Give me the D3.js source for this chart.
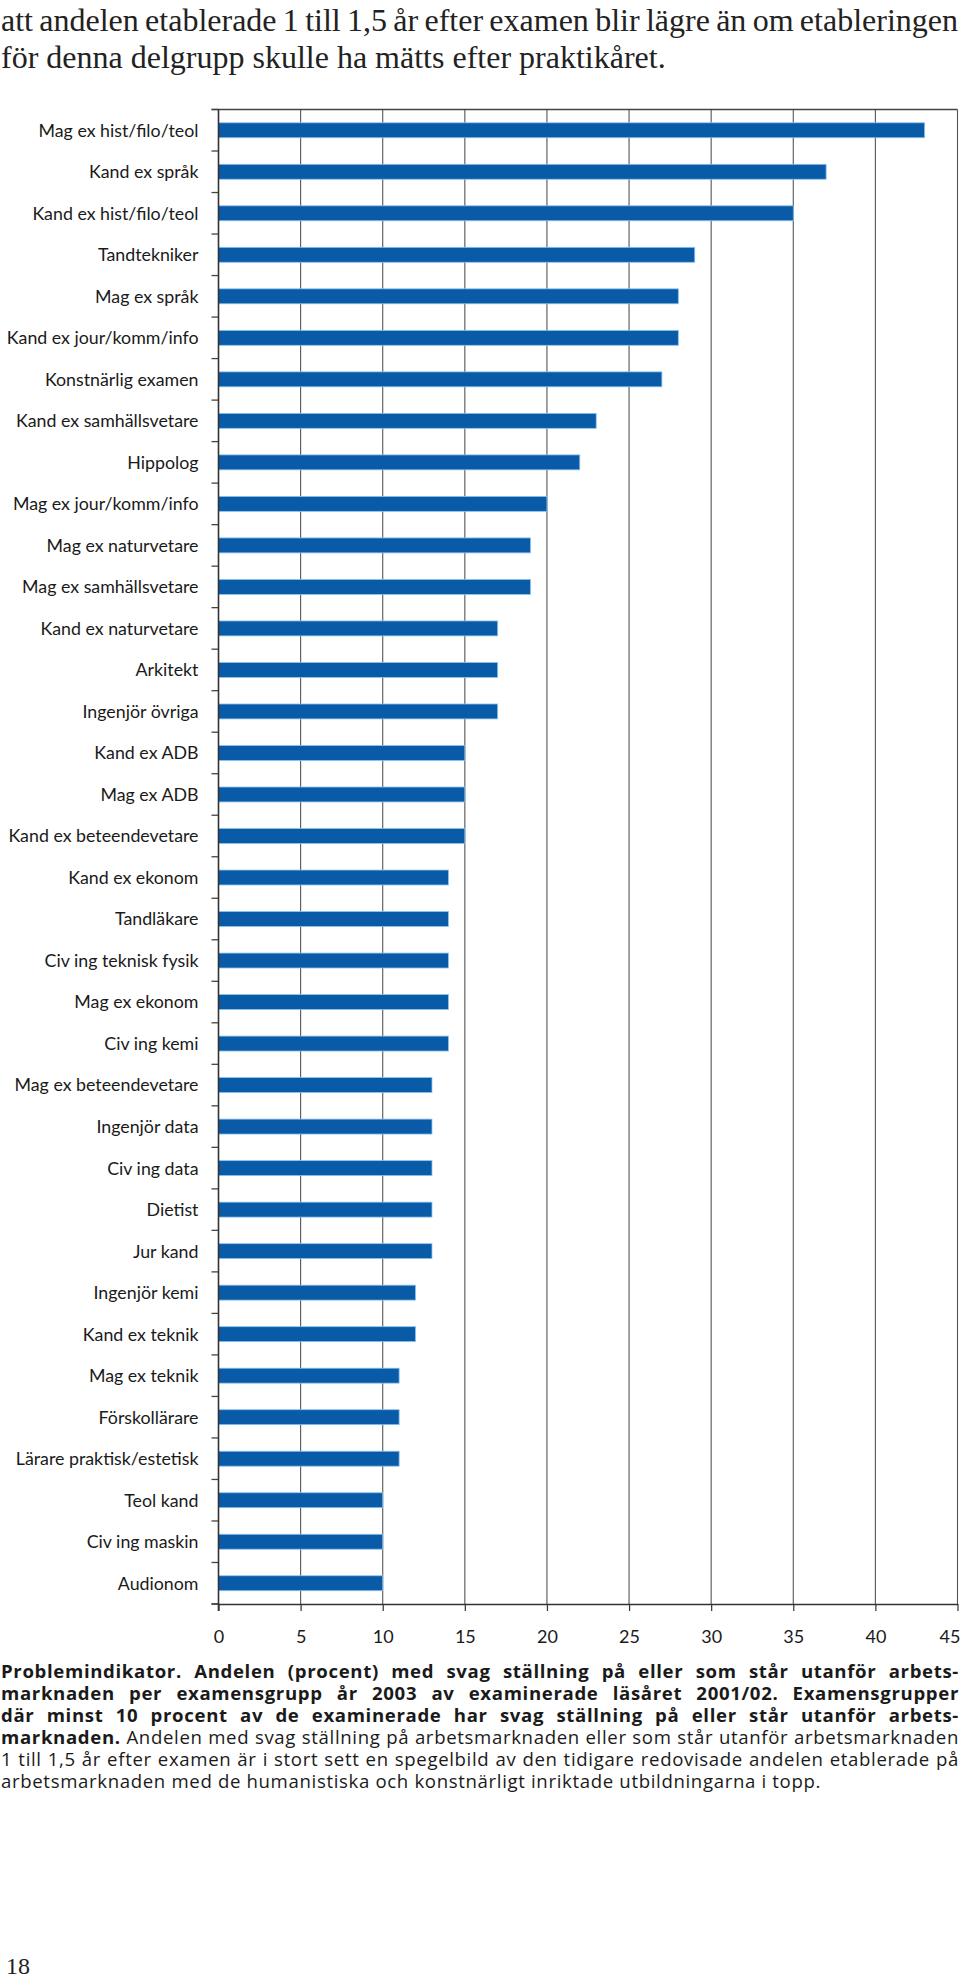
<!DOCTYPE html>
<html><head><meta charset="utf-8">
<script src="https://cdn.jsdelivr.net/npm/d3@7"></script>
<style>
body{margin:0;background:#fff;}
svg{display:block;}
</style></head>
<body>
<svg id="c" width="960" height="1979"></svg>
<script>
const categories = ["Mag ex hist/filo/teol","Kand ex språk","Kand ex hist/filo/teol","Tandtekniker","Mag ex språk","Kand ex jour/komm/info","Konstnärlig examen","Kand ex samhällsvetare","Hippolog","Mag ex jour/komm/info","Mag ex naturvetare","Mag ex samhällsvetare","Kand ex naturvetare","Arkitekt","Ingenjör övriga","Kand ex ADB","Mag ex ADB","Kand ex beteendevetare","Kand ex ekonom","Tandläkare","Civ ing teknisk fysik","Mag ex ekonom","Civ ing kemi","Mag ex beteendevetare","Ingenjör data","Civ ing data","Dietist","Jur kand","Ingenjör kemi","Kand ex teknik","Mag ex teknik","Förskollärare","Lärare praktisk/estetisk","Teol kand","Civ ing maskin","Audionom"];
const values = [43,37,35,29,28,28,27,23,22,20,19,19,17,17,17,15,15,15,14,14,14,14,14,13,13,13,13,13,12,12,11,11,11,10,10,10];
const xTicks = [0,5,10,15,20,25,30,35,40,45];
const introLines = ["att andelen etablerade 1 till 1,5 år efter examen blir lägre än om etableringen","för denna delgrupp skulle ha mätts efter praktikåret."];
const captionLines = [
  [["Problemindikator. Andelen (procent) med svag ställning på eller som står utanför arbets-",true]],
  [["marknaden per examensgrupp år 2003 av examinerade läsåret 2001/02. Examensgrupper",true]],
  [["där minst 10 procent av de examinerade har svag ställning på eller står utanför arbets-",true]],
  [["marknaden.",true],[" Andelen med svag ställning på arbetsmarknaden eller som står utanför arbetsmarknaden",false]],
  [["1 till 1,5 år efter examen är i stort sett en spegelbild av den tidigare redovisade andelen etablerade på",false]],
  [["arbetsmarknaden med de humanistiska och konstnärligt inriktade utbildningarna i topp.",false]]
];
const pageNumber = "18";

const svg = d3.select("#c");
const sans = "Lato, 'Open Sans', sans-serif";
const capFont = "'Open Sans', Lato, sans-serif";
const serif = "'Liberation Serif', 'DejaVu Serif', serif";

const pTop = 109.5, pBottom = 1604, pLeft = 218.5, pRight = 957.5;
const x = d3.scaleLinear().domain([0,45]).range([pLeft,pRight]);
const y = d3.scaleBand().domain(categories).range([pTop,pBottom]).paddingInner(0.64).paddingOuter(0.32);

function justify(t, target){
  const nat = t.node().getComputedTextLength();
  const txt = t.text();
  const spaces = (txt.match(/ /g)||[]).length;
  if(spaces>0) t.attr("word-spacing", (target-nat)/spaces);
}

// intro text
introLines.forEach((l,i)=>{
  const t = svg.append("text").attr("x",1).attr("y",31+i*37)
    .attr("font-family",serif).attr("font-size",32).attr("fill","#222").text(l);
  if(i===0) justify(t,957);
});

// gridlines
const g = svg.append("g");
g.selectAll("line.grid").data(xTicks.filter(d=>d>0)).join("line")
  .attr("x1",d=>x(d)).attr("x2",d=>x(d)).attr("y1",pTop).attr("y2",pBottom)
  .attr("stroke","#555").attr("stroke-width",1.1);
// top border
g.append("line").attr("x1",pLeft-7).attr("x2",pRight).attr("y1",pTop).attr("y2",pTop).attr("stroke","#444").attr("stroke-width",1.3);

// bars
g.selectAll("rect.bar").data(categories).join("rect")
  .attr("x",x(0)).attr("y",d=>y(d)).attr("height",y.bandwidth())
  .attr("width",(d,i)=>x(values[i])-x(0))
  .attr("fill","#0a5ba7").attr("stroke","#8cc4ee").attr("stroke-width",0.8);

// y boundary ticks
const step = y.step();
const bounds = d3.range(categories.length+1).map(i=>pTop+i*step);
g.selectAll("line.yt").data(bounds).join("line")
  .attr("x1",pLeft-7).attr("x2",pLeft).attr("y1",d=>d).attr("y2",d=>d)
  .attr("stroke","#444").attr("stroke-width",1.3);

// labels
g.selectAll("text.lab").data(categories).join("text")
  .attr("x",pLeft-20).attr("y",d=>y(d)+y.bandwidth()/2).attr("dy","0.36em")
  .attr("text-anchor","end").attr("font-family",sans).attr("font-size",17.8).attr("fill","#1a1a1a")
  .text(d=>d);

// left axis
g.append("line").attr("x1",pLeft).attr("x2",pLeft).attr("y1",pTop).attr("y2",pBottom+7).attr("stroke","#333").attr("stroke-width",1.6);

// bottom axis
const ax = svg.append("g").attr("transform",`translate(0,${pBottom})`)
  .call(d3.axisBottom(x).tickValues(xTicks).tickSize(7).tickPadding(19).tickSizeOuter(0));
ax.select(".domain").attr("stroke","#333").attr("stroke-width",1.6);
ax.selectAll(".tick line").attr("stroke","#333").attr("stroke-width",1.2);
ax.selectAll(".tick text").attr("font-family",sans).attr("font-size",18).attr("fill","#1a1a1a")
  .attr("dx",d=>d===45?-8:0);
ax.append("line").attr("x1",pLeft-7).attr("x2",pLeft).attr("y1",0).attr("y2",0).attr("stroke","#333").attr("stroke-width",1.3);

// caption
const capSize = 18.6;
const capLines = captionLines.map((parts,i)=>{
  const t = svg.append("text").attr("x",1).attr("y",1678+i*22)
    .attr("font-family",capFont).attr("font-size",capSize).attr("fill","#1a1a1a").attr("xml:space","preserve");
  parts.forEach(p=>{
    t.append("tspan").attr("font-weight",p[1]?"bold":"normal").text(p[0]);
  });
  return t;
});
// tracking chosen so the last (unjustified) line reaches its width in the reference
const last = capLines[capLines.length-1];
const lastTxt = last.text();
const ls = (820 - last.node().getComputedTextLength())/lastTxt.length;
capLines.forEach((t,i)=>{
  t.attr("letter-spacing",ls);
  if(i<capLines.length-1) justify(t,958);
});

// page number
svg.append("text").attr("x",6).attr("y",1974).attr("font-family",serif).attr("font-size",24).attr("fill","#222").text(pageNumber);
</script>
</body></html>
